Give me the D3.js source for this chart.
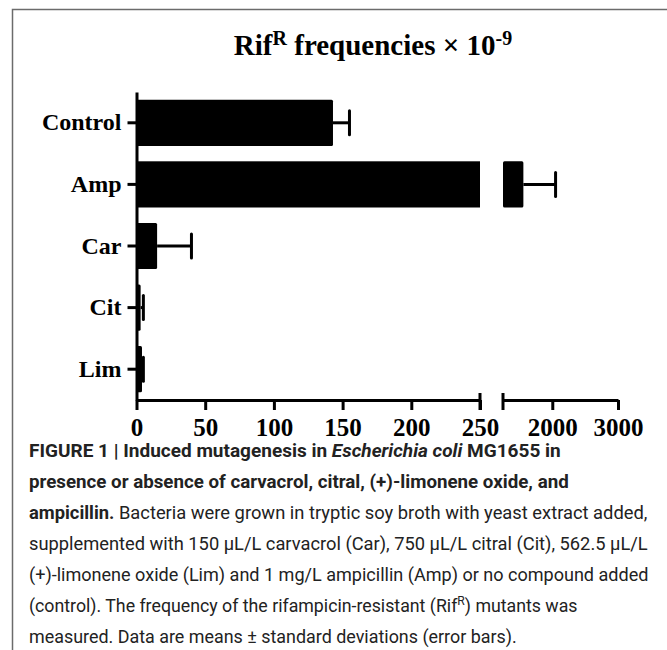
<!DOCTYPE html>
<html>
<head>
<meta charset="utf-8">
<script src="https://cdn.jsdelivr.net/npm/d3@7"></script>
<style>
body { margin: 0; background: #fff; }
</style>
</head>
<body>
<svg id="chart"></svg>
<script>
const WIDTH = 667;
const HEIGHT = 650;

const categories = ['Control', 'Amp', 'Car', 'Cit', 'Lim'];
const means = [143, 1560, 15, 3, 4];
const sds = [12, 490, 25, 2, 1];
const lowTicks = [0, 50, 100, 150, 200, 250];
const highTicks = [2000, 3000];
const lowDomain = [0, 250];
const highDomain = [1250, 3000];

// caption lines, split into styled runs
const captionLines = [
	[['FIGURE 1 | Induced mutagenesis in ', 'b'], ['Escherichia coli', 'bi'], [' MG1655 in', 'b']],
	[['presence or absence of carvacrol, citral, (+)-limonene oxide, and', 'b']],
	[['ampicillin.', 'b'], [' Bacteria were grown in tryptic soy broth with yeast extract added,', '']],
	[['supplemented with 150 \u00b5L/L carvacrol (Car), 750 \u00b5L/L citral (Cit), 562.5 \u00b5L/L', '']],
	[['(+)-limonene oxide (Lim) and 1 mg/L ampicillin (Amp) or no compound added', '']],
	[['(control). The frequency of the rifampicin-resistant (Rif', ''], ['R', 'sup'], [') mutants was', '']],
	[['measured. Data are means \u00b1 standard deviations (error bars).', '']]
];
const captionWidths = [532, 540, 619, 619, 620, 549, 488];

const svg = d3.select('#chart')
	.attr('width', WIDTH)
	.attr('height', HEIGHT);

svg.append('rect')
	.attr('x', 12.5)
	.attr('y', 9.5)
	.attr('width', 720)
	.attr('height', 700)
	.attr('fill', 'none')
	.attr('stroke', '#6b6b6b')
	.attr('stroke-width', 1.5);

const serif = '"Liberation Serif", "Times New Roman", serif';

const xLow = d3.scaleLinear().domain(lowDomain).range([136.5, 480]);
const xHigh = d3.scaleLinear().domain(highDomain).range([503, 618]);
const y = d3.scaleBand()
	.domain(categories)
	.range([92, 400])
	.paddingInner(0.25)
	.paddingOuter(0.125);

const xPos = v => (v > lowDomain[1] ? xHigh(v) : xLow(v));

// title
const title = svg.append('text')
	.attr('x', 373)
	.attr('y', 55)
	.attr('text-anchor', 'middle')
	.attr('font-family', serif)
	.attr('font-weight', 'bold')
	.attr('font-size', 29);
title.append('tspan').text('Rif');
title.append('tspan').attr('dy', -10).attr('font-size', 20).text('R');
title.append('tspan').attr('dy', 10).text(' frequencies \u00d7 10');
title.append('tspan').attr('dy', -10).attr('font-size', 20).text('-9');

// bars
const rows = categories.map((c, i) => ({cat: c, mean: means[i], sd: sds[i]}));
const barG = svg.append('g');
rows.forEach(d => {
	const top = y(d.cat);
	const h = y.bandwidth();
	if (d.mean > lowDomain[1]) {
		barG.append('rect')
			.attr('x', xLow(0)).attr('y', top)
			.attr('width', xLow(lowDomain[1]) - xLow(0)).attr('height', h)
			.attr('fill', '#000');
		barG.append('rect')
			.attr('x', xHigh(highDomain[0])).attr('y', top)
			.attr('width', xHigh(d.mean) - xHigh(highDomain[0])).attr('height', h)
			.attr('rx', 1.5)
			.attr('fill', '#000');
	} else {
		barG.append('rect')
			.attr('x', xLow(0)).attr('y', top)
			.attr('width', xLow(d.mean) - xLow(0)).attr('height', h)
			.attr('rx', 1.5)
			.attr('fill', '#000');
	}
	const cy = top + h / 2;
	const x0 = xPos(d.mean);
	const x1 = xPos(d.mean + d.sd);
	barG.append('line')
		.attr('x1', x0).attr('x2', x1).attr('y1', cy).attr('y2', cy)
		.attr('stroke', '#000').attr('stroke-width', 3);
	barG.append('line')
		.attr('x1', x1).attr('x2', x1).attr('y1', cy - 12).attr('y2', cy + 12)
		.attr('stroke', '#000').attr('stroke-width', 3).attr('stroke-linecap', 'round');
});

// axes
const styleAxis = g => {
	g.selectAll('path, line').attr('stroke', '#000').attr('stroke-width', 3);
	g.selectAll('text')
		.attr('font-family', serif)
		.attr('font-weight', 'bold')
		.attr('font-size', 25)
		.attr('fill', '#000');
};

svg.append('g')
	.attr('transform', 'translate(0,400)')
	.call(d3.axisBottom(xLow).tickValues(lowTicks).tickFormat(d3.format('d'))
		.tickSize(10).tickSizeOuter(0).tickPadding(8))
	.call(styleAxis);

svg.append('g')
	.attr('transform', 'translate(0,400)')
	.call(d3.axisBottom(xHigh).tickValues(highTicks).tickFormat(d3.format('d'))
		.tickSize(10).tickSizeOuter(0).tickPadding(8))
	.call(styleAxis);

// end ticks at the axis break
[xLow(lowDomain[1]), xHigh(highDomain[0])].forEach(xv => {
	svg.append('line')
		.attr('x1', xv).attr('x2', xv).attr('y1', 393).attr('y2', 410)
		.attr('stroke', '#000').attr('stroke-width', 3);
});

svg.append('g')
	.attr('transform', 'translate(136.5,0)')
	.call(d3.axisLeft(y).tickSize(9).tickSizeOuter(0).tickPadding(6))
	.call(styleAxis)
	.call(g => g.selectAll('text').attr('font-size', 24));

// caption
const sans = 'Roboto, "Liberation Sans", Arial, sans-serif';
captionLines.forEach((runs, i) => {
	const t = svg.append('text')
		.attr('x', 0)
		.attr('y', 0)
		.attr('font-family', sans)
		.attr('font-size', 19)
		.attr('fill', '#222');
	let prevSup = false;
	runs.forEach(([txt, st]) => {
		const s = t.append('tspan').text(txt);
		if (st.includes('b')) s.attr('font-weight', 'bold');
		if (st.includes('i')) s.attr('font-style', 'italic');
		if (st === 'sup') {
			s.attr('font-size', 13).attr('dy', -7);
			prevSup = true;
		} else if (prevSup) {
			s.attr('dy', 7);
			prevSup = false;
		}
	});
	const w = t.node().getComputedTextLength();
	const k = captionWidths[i] / w;
	t.attr('transform', `translate(29,${457 + i * 31}) scale(${k},1)`);
});
</script>
</body>
</html>
